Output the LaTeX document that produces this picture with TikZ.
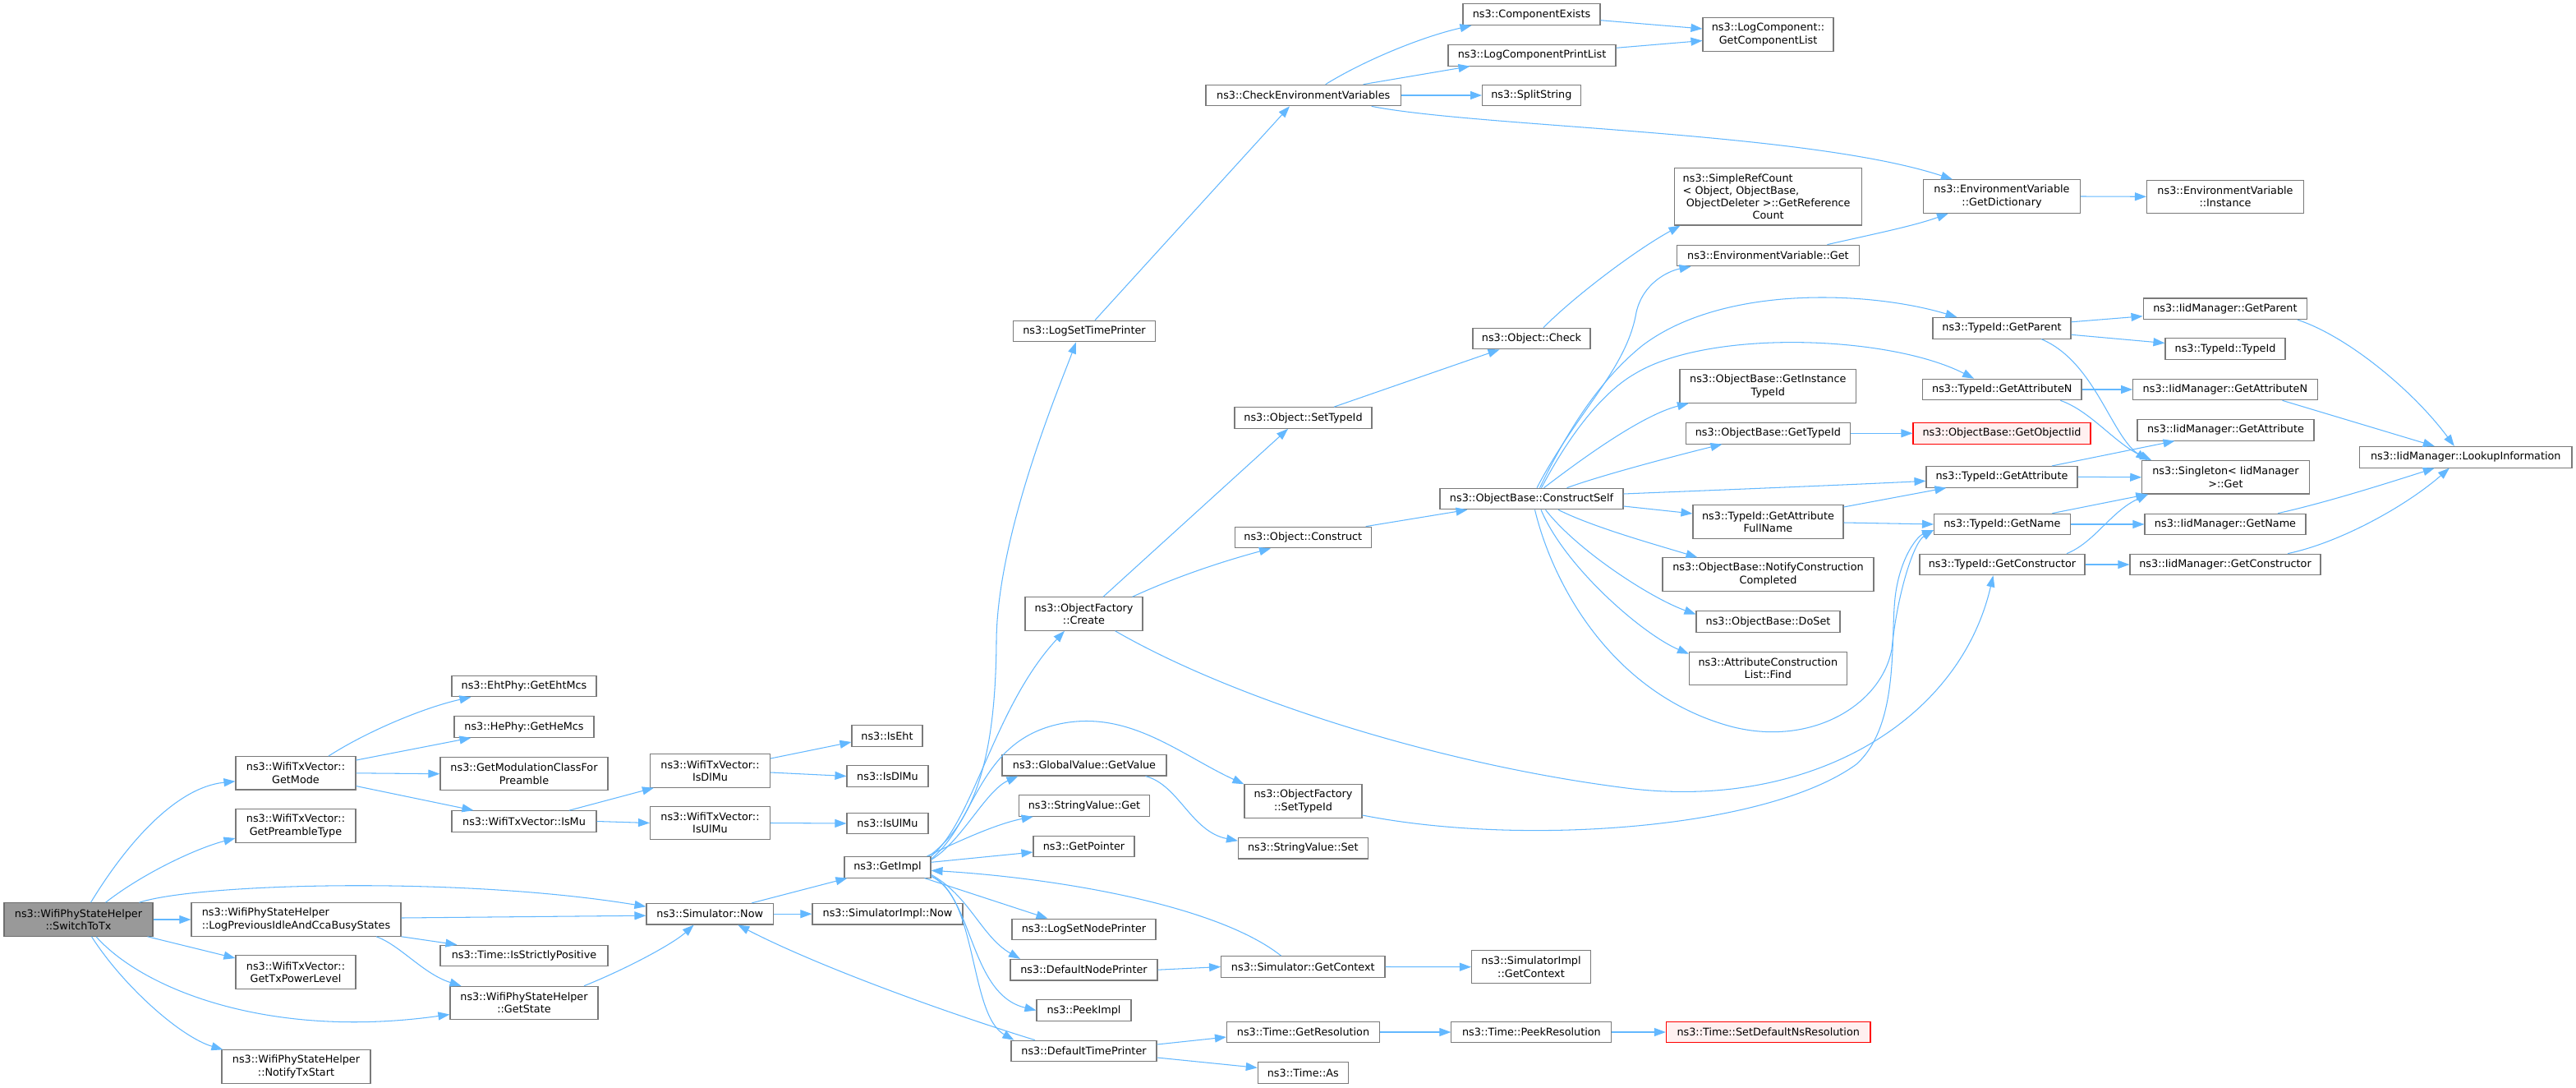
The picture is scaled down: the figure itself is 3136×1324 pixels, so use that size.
\documentclass[tikz,border=0pt]{standalone}
\usepackage{fontspec}
\setmainfont{DejaVu Sans}
\usetikzlibrary{arrows.meta,calc}
\definecolor{edgec}{HTML}{63B8FF}
\definecolor{nodeb}{HTML}{7A7A7A}
\definecolor{rootf}{HTML}{999999}
\definecolor{redf}{HTML}{FFF0F0}
\begin{document}
\begin{tikzpicture}[x=1pt,y=-1pt,
 fn/.style={draw=nodeb, line width=1.1pt, fill=white, inner sep=0pt, align=center, font=\fontsize{12.8}{15.2}\selectfont, minimum height=25.6pt},
 tall/.style={minimum height=40.4pt},
 rootn/.style={fill=rootf, draw=nodeb!90!black},
 redn/.style={draw=red, fill=redf},
 conn/.style={draw=edgec, line width=1.05pt, -{Triangle[length=14pt,width=10pt]}}]
\fill[white] (0,0) rectangle (3136,1324);
\useasboundingbox (0,0) rectangle (3136,1324);
% nodes
\node[fn,tall,rootn,minimum width=181pt] (st) at (95.5,1119) {ns3::WifiPhyStateHelper\\::SwitchToTx};
\node[fn,tall,minimum width=146pt] (gmode) at (360,940.8) {ns3::WifiTxVector::\\GetMode};
\node[fn,tall,minimum width=146pt] (gpre) at (360,1005) {ns3::WifiTxVector::\\GetPreambleType};
\node[fn,tall,align=left,minimum width=255pt] (lpi) at (360.5,1119) {ns3::WifiPhyStateHelper\\::LogPreviousIdleAndCcaBusyStates};
\node[fn,tall,minimum width=146pt] (gtx) at (360,1183) {ns3::WifiTxVector::\\GetTxPowerLevel};
\node[fn,tall,minimum width=181pt] (ntx) at (360.5,1298) {ns3::WifiPhyStateHelper\\::NotifyTxStart};
\node[fn,minimum width=176pt] (eht) at (638,835) {ns3::EhtPhy::GetEhtMcs};
\node[fn,minimum width=170pt] (hem) at (638,884.5) {ns3::HePhy::GetHeMcs};
\node[fn,tall,minimum width=204pt] (gmc) at (638,941.7) {ns3::GetModulationClassFor\\Preamble};
\node[fn,minimum width=176pt] (ismu) at (638,999.5) {ns3::WifiTxVector::IsMu};
\node[fn,minimum width=204pt] (isp) at (638,1163) {ns3::Time::IsStrictlyPositive};
\node[fn,tall,minimum width=180pt] (gst) at (638,1220.5) {ns3::WifiPhyStateHelper\\::GetState};
\node[fn,tall,minimum width=146pt] (dlmu) at (864.5,938) {ns3::WifiTxVector::\\IsDlMu};
\node[fn,tall,minimum width=146pt] (ulmu) at (864.5,1001.5) {ns3::WifiTxVector::\\IsUlMu};
\node[fn,minimum width=154.5pt] (snow) at (864.25,1112.2) {ns3::Simulator::Now};
\node[fn,minimum width=86pt] (iseht) at (1080,895.5) {ns3::IsEht};
\node[fn,minimum width=99pt] (isdl) at (1080.5,944.5) {ns3::IsDlMu};
\node[fn,minimum width=99pt] (isul) at (1080.5,1002) {ns3::IsUlMu};
\node[fn,minimum width=105pt] (gimpl) at (1080.5,1055.3) {ns3::GetImpl};
\node[fn,minimum width=183pt] (sinow) at (1080.5,1112.2) {ns3::SimulatorImpl::Now};
\node[fn,minimum width=172.5pt] (lstp) at (1320,403) {ns3::LogSetTimePrinter};
\node[fn,tall,minimum width=143pt] (ofc) at (1319.5,747) {ns3::ObjectFactory\\::Create};
\node[fn,minimum width=200pt] (gvv) at (1320,931.2) {ns3::GlobalValue::GetValue};
\node[fn,minimum width=158.5pt] (svg) at (1320,980.5) {ns3::StringValue::Get};
\node[fn,minimum width=123pt] (gptr) at (1319.5,1030) {ns3::GetPointer};
\node[fn,minimum width=175pt] (lsnp) at (1319.5,1131) {ns3::LogSetNodePrinter};
\node[fn,minimum width=179pt] (dnp) at (1319.5,1180.2) {ns3::DefaultNodePrinter};
\node[fn,minimum width=115pt] (peek) at (1319.5,1229.5) {ns3::PeekImpl};
\node[fn,minimum width=177pt] (dtp) at (1319.5,1279) {ns3::DefaultTimePrinter};
\node[fn,minimum width=237.5pt] (cev) at (1586.7,116) {ns3::CheckEnvironmentVariables};
\node[fn,minimum width=167pt] (osti) at (1586.5,508.5) {ns3::Object::SetTypeId};
\node[fn,minimum width=165.5pt] (ocon) at (1586.3,654) {ns3::Object::Construct};
\node[fn,tall,minimum width=143pt] (ofst) at (1586.5,975) {ns3::ObjectFactory\\::SetTypeId};
\node[fn,minimum width=157.5pt] (svs) at (1586.3,1032.2) {ns3::StringValue::Set};
\node[fn,minimum width=199.3pt] (sgc) at (1586.3,1176.5) {ns3::Simulator::GetContext};
\node[fn,minimum width=186pt] (tgr) at (1586.5,1256) {ns3::Time::GetResolution};
\node[fn,minimum width=110pt] (tas) at (1586.3,1305.7) {ns3::Time::As};
\node[fn,minimum width=167pt] (cex) at (1864.5,17.7) {ns3::ComponentExists};
\node[fn,minimum width=204pt] (lcpl) at (1865,67.3) {ns3::LogComponentPrintList};
\node[fn,minimum width=119.5pt] (split) at (1864.3,116) {ns3::SplitString};
\node[fn,minimum width=143pt] (ochk) at (1864.5,412) {ns3::Object::Check};
\node[fn,minimum width=223pt] (cself) at (1864.5,607) {ns3::ObjectBase::ConstructSelf};
\node[fn,tall,minimum width=145pt] (sigc) at (1864,1176.7) {ns3::SimulatorImpl\\::GetContext};
\node[fn,minimum width=195pt] (tpr) at (1864.4,1256) {ns3::Time::PeekResolution};
\node[fn,tall,minimum width=159pt] (gcl) at (2152.5,42) {ns3::LogComponent::\\GetComponentList};
\node[fn,minimum width=228pt,minimum height=69.3pt] (src) at (2152.7,239.4) {\makebox[208pt][l]{ns3::SimpleRefCount}\\\makebox[208pt][l]{< Object, ObjectBase,}\\ObjectDeleter >::GetReference\\Count};
\node[fn,minimum width=221.3pt] (evget) at (2152.4,311) {ns3::EnvironmentVariable::Get};
\node[fn,tall,minimum width=214.6pt] (gitid) at (2152.3,470) {ns3::ObjectBase::GetInstance\\TypeId};
\node[fn,minimum width=200.5pt] (obgt) at (2152.3,527.3) {ns3::ObjectBase::GetTypeId};
\node[fn,tall,minimum width=183pt] (gafn) at (2152.5,635) {ns3::TypeId::GetAttribute\\FullName};
\node[fn,tall,minimum width=257pt] (ncc) at (2152.5,699) {ns3::ObjectBase::NotifyConstruction\\Completed};
\node[fn,minimum width=175pt] (doset) at (2152.5,756.5) {ns3::ObjectBase::DoSet};
\node[fn,tall,minimum width=191.5pt] (acl) at (2152.3,813.5) {ns3::AttributeConstruction\\List::Find};
\node[fn,redn,minimum width=248.5pt] (sdnr) at (2152.7,1256) {ns3::Time::SetDefaultNsResolution};
\node[fn,tall,minimum width=191pt] (gdict) at (2437,239) {ns3::EnvironmentVariable\\::GetDictionary};
\node[fn,minimum width=168pt] (tgp) at (2437,399.3) {ns3::TypeId::GetParent};
\node[fn,minimum width=193.3pt] (tgan) at (2437.3,474) {ns3::TypeId::GetAttributeN};
\node[fn,redn,minimum width=216pt] (goi) at (2437,527.3) {ns3::ObjectBase::GetObjectIid};
\node[fn,minimum width=184pt] (tga) at (2437,580.3) {ns3::TypeId::GetAttribute};
\node[fn,minimum width=165.5pt] (tgn) at (2437.3,638) {ns3::TypeId::GetName};
\node[fn,minimum width=201pt] (tgc) at (2437.5,687) {ns3::TypeId::GetConstructor};
\node[fn,tall,minimum width=191pt] (inst) at (2709,239.3) {ns3::EnvironmentVariable\\::Instance};
\node[fn,minimum width=199.7pt] (igp) at (2708.9,375.8) {ns3::IidManager::GetParent};
\node[fn,minimum width=146pt] (ttid) at (2709,424.5) {ns3::TypeId::TypeId};
\node[fn,minimum width=224.3pt] (igan) at (2708.9,474) {ns3::IidManager::GetAttributeN};
\node[fn,minimum width=215pt] (iga) at (2709.5,523.3) {ns3::IidManager::GetAttribute};
\node[fn,tall,minimum width=203.3pt] (sgt) at (2709.4,580.8) {ns3::Singleton< IidManager\\>::Get};
\node[fn,minimum width=196pt] (ign) at (2709,638) {ns3::IidManager::GetName};
\node[fn,minimum width=232pt] (igc) at (2709,687) {ns3::IidManager::GetConstructor};
\node[fn,minimum width=258.4pt] (lki) at (3001.8,556.3) {ns3::IidManager::LookupInformation};
% edges
\draw[conn] ($(st.north)+(15,0)$) .. controls (155,1025) and (215,958) .. ($(gmode.west)+(0,10)$);
\draw[conn] ($(st.north)+(33,0)$) .. controls (175,1062) and (240,1032) .. ($(gpre.west)+(0,15)$);
\draw[conn] ($(st.north)+(74,0)$) .. controls (240,1075) and (560,1066) .. ($(snow.west)+(0,-9)$);
\draw[conn] (st.east) -- (lpi.west);
\draw[conn] ($(st.south)+(84,0)$) -- ($(gtx.west)+(0,-17)$);
\draw[conn] ($(st.south)+(21.5,0)$) .. controls (175,1205) and (330,1265) .. ($(gst.west)+(0,14)$);
\draw[conn] ($(st.south)+(16,0)$) .. controls (150,1200) and (220,1262) .. ($(ntx.north west)+(2,0)$);
\draw[conn] ($(gmode.north)+(40,0)$) .. controls (450,888) and (520,860) .. ($(eht.south west)+(24,0)$);
\draw[conn] ($(gmode.north east)+(0,5)$) -- ($(hem.south west)+(21,0)$);
\draw[conn] (gmode.east) -- (gmc.west);
\draw[conn] ($(gmode.south east)+(0,-5)$) -- ($(ismu.north west)+(27,0)$);
\draw[conn] ($(ismu.north)+(55,0)$) -- ($(dlmu.south west)+(5,0)$);
\draw[conn] (ismu.east) -- (ulmu.west);
\draw[conn] ($(dlmu.east)+(0,-15)$) -- ($(iseht.west)+(0,7.5)$);
\draw[conn] ($(dlmu.east)+(0,2)$) -- (isdl.west);
\draw[conn] (ulmu.east) -- (isul.west);
\draw[conn] ($(lpi.east)+(0,-2)$) -- ($(snow.west)+(0,2)$);
\draw[conn] (lpi.south east) -- ($(isp.north west)+(21,0)$);
\draw[conn] ($(lpi.south)+(97.5,0)$) .. controls (487,1150) and (515,1185) .. ($(gst.north west)+(14,0)$);
\draw[conn] ($(gst.north)+(73,0)$) .. controls (765,1178) and (820,1148) .. ($(snow.south)+(-19.6,0)$);
\draw[conn] ($(snow.north)+(51,0)$) -- ($(gimpl.south west)+(4,0)$);
\draw[conn] (snow.east) -- (sinow.west);
\draw[conn] ($(gimpl.north east)+(-3,0)$) .. controls (1195,995) and (1212,900) .. (1213,780) .. controls (1214,650) and (1290,470) .. ($(lstp.south)+(-10,0)$);
\draw[conn] (gimpl.north east) .. controls (1185,1000) and (1210,860) .. ($(ofc.south)+(-23.5,0)$);
\draw[conn] ($(gimpl.east)+(0,-9)$) .. controls (1170,1025) and (1200,962) .. ($(gvv.south west)+(20,0)$);
\draw[conn] ($(gimpl.north east)+(-5,0)$) .. controls (1170,1022) and (1215,1002) .. ($(svg.south west)+(17.5,0)$);
\draw[conn] ($(gimpl.east)+(0,-6)$) -- ($(gptr.west)+(0,7)$);
\draw[conn] ($(gimpl.east)+(0,-10)$) .. controls (1190,1000) and (1190,895) .. (1301,879) .. controls (1380,868) and (1440,920) .. (ofst.north west);
\draw[conn] ($(gimpl.south east)+(-8,0)$) -- ($(lsnp.north west)+(44,0)$);
\draw[conn] ($(gimpl.east)+(0,9)$) .. controls (1180,1090) and (1195,1140) .. ($(dnp.north west)+(12.5,0)$);
\draw[conn] ($(gimpl.east)+(0,11)$) .. controls (1185,1090) and (1180,1210) .. (peek.west);
\draw[conn] ($(gimpl.east)+(0,11)$) .. controls (1190,1090) and (1180,1235) .. ($(dtp.north west)+(4,0)$);
\draw[conn] ($(sgc.north)+(-26.7,0)$) .. controls (1480,1100) and (1280,1068) .. ($(gimpl.east)+(0,4)$);
\draw[conn] ($(dtp.north)+(-59.5,0)$) .. controls (1160,1235) and (1000,1178) .. ($(snow.south)+(34,0)$);
\draw[conn] ($(dtp.east)+(0,-8)$) -- ($(tgr.west)+(0,6)$);
\draw[conn] ($(dtp.east)+(0,8)$) -- ($(tas.north west)+(0,7)$);
\draw[conn] (dnp.east) -- (sgc.west);
\draw[conn] (sgc.east) -- (sigc.west);
\draw[conn] (tgr.east) -- (tpr.west);
\draw[conn] (tpr.east) -- (sdnr.west);
\draw[conn] ($(gvv.south east)+(-26,0)$) .. controls (1435,955) and (1450,1012) .. ($(svs.west)+(0,-9)$);
\draw[conn] ($(ofst.east)+(0,17)$) .. controls (1850,1030) and (2150,1010) .. (2260,930) .. controls (2315,880) and (2300,770) .. (2308,720) .. controls (2315,675) and (2335,652) .. ($(tgn.west)+(0,7)$);
\draw[conn] ($(ofc.south)+(38,0)$) .. controls (1500,850) and (1750,930) .. (1980,959) .. controls (2200,987) and (2385,880) .. ($(tgc.south)+(-11,0)$);
\draw[conn] ($(osti.north)+(37.5,0)$) -- ($(ochk.south)+(-39,0)$);
\draw[conn] ($(ochk.north)+(14.5,0)$) .. controls (1915,362) and (1990,305) .. ($(src.south west)+(7.3,0)$);
\draw[conn] ($(cself.north)+(6.5,0)$) .. controls (1920,500) and (1980,450) .. (1992,380) .. controls (2000,345) and (2030,330) .. ($(evget.south west)+(17.3,0)$);
\draw[conn] ($(cself.north)+(10,0)$) .. controls (1910,520) and (1950,460) .. (2000,420) .. controls (2100,345) and (2280,355) .. ($(tgp.north west)+(30,0)$);
\draw[conn] ($(cself.north)+(15,0)$) .. controls (1930,555) and (2000,505) .. ($(gitid.south west)+(11.5,0)$);
\draw[conn] ($(cself.north)+(43,0)$) .. controls (1950,578) and (2050,552) .. ($(obgt.south west)+(45,0)$);
\draw[conn] ($(cself.north)+(12,0)$) .. controls (1910,530) and (1950,478) .. (1990,455) .. controls (2080,400) and (2300,408) .. ($(tgan.north west)+(63,0)$);
\draw[conn] ($(cself.east)+(0,-6)$) .. controls (2100,596) and (2250,590) .. ($(tga.west)+(0,5)$);
\draw[conn] ($(cself.east)+(0,9)$) -- ($(gafn.west)+(0,-10)$);
\draw[conn] ($(cself.south)+(32.5,0)$) .. controls (1940,642) and (2020,664) .. ($(ncc.north west)+(43,0)$);
\draw[conn] ($(cself.south)+(17,0)$) .. controls (1920,670) and (2010,728) .. ($(doset.west)+(0,-9)$);
\draw[conn] ($(cself.south)+(11.5,0)$) .. controls (1905,690) and (2000,772) .. ($(acl.north west)+(0,3)$);
\draw[conn] ($(cself.south)+(4,0)$) .. controls (1890,710) and (1960,840) .. (2100,882) .. controls (2200,912) and (2290,860) .. (2303,790) .. controls (2310,720) and (2330,660) .. ($(tgn.west)+(0,7)$);
\draw[conn] ($(ofc.north)+(23.5,0)$) -- ($(osti.south)+(-18.5,0)$);
\draw[conn] ($(ofc.north east)+(-13,0)$) .. controls (1440,698) and (1500,680) .. ($(ocon.south)+(-39.3,0)$);
\draw[conn] ($(ocon.north east)+(-7,0)$) -- ($(cself.south west)+(34,0)$);
\draw[conn] ($(lstp.north)+(13,0)$) -- ($(cev.south)+(-16.7,0)$);
\draw[conn] ($(cev.north)+(27,0)$) .. controls (1660,74) and (1730,45) .. ($(cex.south west)+(11,0)$);
\draw[conn] ($(cev.north)+(73,0)$) -- ($(lcpl.south west)+(27,0)$);
\draw[conn] (cev.east) -- (split.west);
\draw[conn] ($(cev.south)+(83,0)$) .. controls (1800,155) and (2200,160) .. ($(gdict.north west)+(36,0)$);
\draw[conn] ($(cex.east)+(0,7)$) -- ($(gcl.west)+(0,-7)$);
\draw[conn] ($(lcpl.east)+(0,-9)$) -- ($(gcl.west)+(0,7.5)$);
\draw[conn] ($(evget.north)+(72,0)$) .. controls (2280,285) and (2330,275) .. ($(gdict.south west)+(31,0)$);
\draw[conn] (gdict.east) -- (inst.west);
\draw[conn] ($(tgp.east)+(0,-7.5)$) -- ($(igp.west)+(0,9)$);
\draw[conn] ($(tgp.east)+(0,8)$) -- ($(ttid.west)+(0,-7)$);
\draw[conn] ($(tgp.south)+(48,0)$) .. controls (2550,440) and (2570,530) .. ($(sgt.north west)+(7,0)$);
\draw[conn] ($(tgan.south)+(71,0)$) .. controls (2545,500) and (2575,540) .. ($(sgt.north west)+(12,0)$);
\draw[conn] (tgan.east) -- (igan.west);
\draw[conn] (obgt.east) -- (goi.west);
\draw[conn] ($(tga.north)+(61,0)$) -- ($(iga.south west)+(46,0)$);
\draw[conn] (tga.east) -- (sgt.west);
\draw[conn] ($(tgn.north)+(61,0)$) -- ($(sgt.south west)+(7,0)$);
\draw[conn] (tgn.east) -- (ign.west);
\draw[conn] ($(tgc.north)+(78.5,0)$) .. controls (2550,660) and (2570,622) .. ($(sgt.south west)+(8,0)$);
\draw[conn] (tgc.east) -- (igc.west);
\draw[conn] ($(igp.south)+(88,0)$) .. controls (2860,410) and (2940,478) .. ($(lki.north)+(-14,0)$);
\draw[conn] ($(igan.south)+(69.6,0)$) -- ($(lki.north)+(-38,0)$);
\draw[conn] ($(ign.north)+(64,0)$) .. controls (2830,612) and (2900,590) .. ($(lki.south)+(-38,0)$);
\draw[conn] ($(igc.north)+(76,0)$) .. controls (2850,660) and (2930,615) .. ($(lki.south)+(-20,0)$);
\draw[conn] ($(gafn.east)+(0,-18)$) -- ($(tga.south west)+(25,0)$);
\draw[conn] ($(gafn.east)+(0,1)$) -- (tgn.west);
\end{tikzpicture}
\end{document}
